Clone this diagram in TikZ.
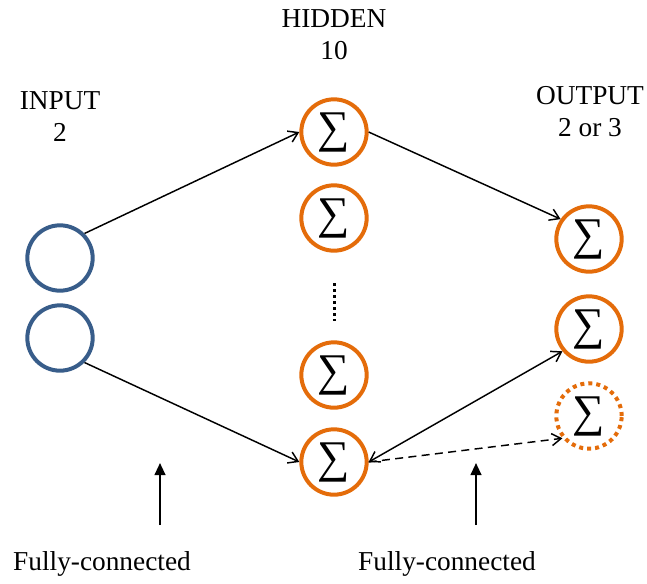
\documentclass[tikz,border=0pt]{standalone}
\usepackage{fontspec}
\setmainfont{Liberation Serif}
\usetikzlibrary{arrows.meta}
\definecolor{nodeorange}{RGB}{228,108,10}
\definecolor{nodeblue}{RGB}{56,93,138}

\begin{document}
\begin{tikzpicture}[x=0.75pt,y=-0.75pt,
    inputnode/.style={circle,draw=nodeblue,line width=3pt,minimum size=49pt,inner sep=0pt},
    sumnode/.style={circle,draw=nodeorange,line width=3pt,minimum size=49pt,inner sep=0pt,font=\fontsize{34}{34}\selectfont},
    link/.style={line width=1.1pt,-{Straight Barb[length=7pt,width=9pt]}},
    uparrow/.style={line width=1.5pt,-{Triangle[length=9pt,width=8pt]}},
    title/.style={align=center,font=\fontsize{20.5}{24}\selectfont}]
\useasboundingbox (0,0) rectangle (647,583);
    % Layers
    \node[inputnode] (in1) at (60,258) {};
    \node[inputnode] (in2) at (60,338) {};
    \node[sumnode] (h1) at (334,132) {∑};
    \node[sumnode] (h2) at (334,218) {∑};
    \node[sumnode] (h3) at (334,375) {∑};
    \node[sumnode] (h4) at (334,462) {∑};
    \node[sumnode] (o1) at (589,239) {∑};
    \node[sumnode] (o2) at (589,329) {∑};
    \node[sumnode,dash pattern=on 3pt off 3pt] (o3) at (589,416) {∑};
    \draw[line width=2.25pt,dash pattern=on 2.25pt off 2.25pt] (334,283) -- (334,321);

    % Titles
    \node[title] (tin) at (60,117) {INPUT\\2};
    \node[title] (thid) at (334,35) {HIDDEN\\10};
    \node[title] (tout) at (590,112) {OUTPUT\\2 or 3};

    % Links
    \draw[link] (in1.45) -- (h1.west);
    \draw[link] (in2.-45) -- (h4.west);
    \draw[link] (h1.east) -- (o1.145);
    \draw[link,{Straight Barb[length=7pt,width=9pt]}-{Straight Barb[length=7pt,width=9pt]}] (h4.east) -- (o2.220);
    \draw[link,dash pattern=on 6pt off 4pt] (h4.east) -- (o3.220);

    % Fully-connected
    \coordinate (a1) at (160,525);
    \coordinate (b1) at (160,463);
    \coordinate (a2) at (476,525);
    \coordinate (b2) at (476,463);
    \draw[uparrow] (a1) -- (b1);
    \draw[uparrow] (a2) -- (b2);
    \node[title] (fc1) at (102,564) {Fully-connected};
    \node[title] (fc2) at (447,564) {Fully-connected};
\end{tikzpicture}
\end{document}
